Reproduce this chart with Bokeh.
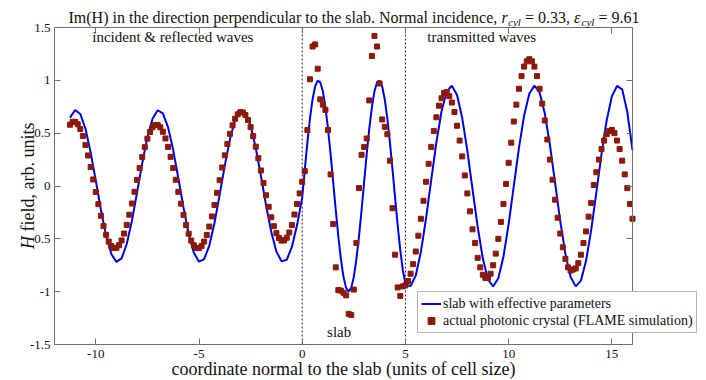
import math
from bokeh.plotting import figure
from bokeh.models import (Range1d, LinearAxis, FixedTicker, Label, Legend, LegendItem)
from bokeh.embed import file_html
from bokeh.resources import INLINE

# ---------------- data ----------------
# effective-medium slab (blue line)
x_eff_inc = [-11.25, -11.0, -10.75, -10.5, -10.25, -10.0, -9.75, -9.5, -9.25, -9.0,
             -8.75, -8.5, -8.25, -8.0, -7.75, -7.5, -7.25, -7.0, -6.75, -6.5,
             -6.25, -6.0, -5.75, -5.5, -5.25, -5.0, -4.75, -4.5, -4.25, -4.0,
             -3.75, -3.5, -3.25, -3.0, -2.75, -2.5, -2.25, -2.0, -1.75, -1.5,
             -1.25, -1.0, -0.75, -0.5, -0.25, 0.0]
h_eff_inc = [0.647, 0.719, 0.682, 0.542, 0.320, 0.051, -0.227, -0.470, -0.642, -0.718,
             -0.685, -0.549, -0.330, -0.062, 0.216, 0.462, 0.637, 0.717, 0.688, 0.557,
             0.340, 0.073, -0.205, -0.453, -0.632, -0.716, -0.692, -0.564, -0.350, -0.084,
             0.194, 0.444, 0.626, 0.714, 0.695, 0.570, 0.360, 0.095, -0.184, -0.435,
             -0.621, -0.713, -0.698, -0.577, -0.370, -0.110]
x_eff_slab = [0.125, 0.25, 0.375, 0.5, 0.625, 0.75, 0.875, 1.0, 1.125, 1.25,
              1.375, 1.5, 1.625, 1.75, 1.875, 2.0, 2.125, 2.25, 2.375, 2.5,
              2.625, 2.75, 2.875, 3.0, 3.125, 3.25, 3.375, 3.5, 3.625, 3.75,
              3.875, 4.0, 4.125, 4.25, 4.375, 4.5, 4.625, 4.75, 4.875, 5.0]
h_eff_slab = [0.155, 0.411, 0.638, 0.819, 0.942, 0.997, 0.981, 0.896, 0.746, 0.543,
              0.301, 0.038, -0.229, -0.478, -0.694, -0.860, -0.964, -1.000, -0.964, -0.860,
              -0.693, -0.478, -0.228, 0.038, 0.301, 0.543, 0.746, 0.896, 0.981, 0.997,
              0.942, 0.819, 0.638, 0.411, 0.155, -0.112, -0.374, -0.607, -0.797, -0.927]
x_eff_tr = [5.125, 5.25, 5.5, 5.75, 6.0, 6.25, 6.5, 6.75, 7.0, 7.25, 7.5,
            7.75, 8.0, 8.25, 8.5, 8.75, 9.0, 9.25, 9.5, 9.75, 10.0,
            10.25, 10.5, 10.75, 11.0, 11.25, 11.5, 11.75, 12.0, 12.25, 12.5,
            12.75, 13.0, 13.25, 13.5, 13.75, 14.0, 14.25, 14.5, 14.75, 15.0,
            15.25, 15.5, 15.75, 16.0]
h_eff_tr = [-0.942, -0.947, -0.848, -0.623, -0.305, 0.059, 0.414, 0.707, 0.895, 0.949, 0.861,
            0.645, 0.333, -0.030, -0.387, -0.687, -0.885, -0.950, -0.873, -0.667, -0.360,
            0.000, 0.360, 0.666, 0.873, 0.950, 0.885, 0.688, 0.388, 0.030, -0.332,
            -0.644, -0.861, -0.950, -0.896, -0.708, -0.416, -0.060, 0.304, 0.622, 0.848,
            0.947, 0.915, 0.700, 0.340]

# FLAME simulation of the photonic crystal (red squares)
x_sim_inc = [-11.25, -11.125, -11.0, -10.875, -10.75, -10.625, -10.5, -10.375, -10.25, -10.125,
             -10.0, -9.875, -9.75, -9.625, -9.5, -9.375, -9.25, -9.125, -9.0, -8.875,
             -8.75, -8.625, -8.5, -8.375, -8.25, -8.125, -8.0, -7.875, -7.75, -7.625,
             -7.5, -7.375, -7.25, -7.125, -7.0, -6.875, -6.75, -6.625, -6.5, -6.375,
             -6.25, -6.125, -6.0, -5.875, -5.75, -5.625, -5.5, -5.375, -5.25, -5.125,
             -5.0, -4.875, -4.75, -4.625, -4.5, -4.375, -4.25, -4.125, -4.0, -3.875,
             -3.75, -3.625, -3.5, -3.375, -3.25, -3.125, -3.0, -2.875, -2.75, -2.625,
             -2.5, -2.375, -2.25, -2.125, -2.0, -1.875, -1.75, -1.625, -1.5, -1.375,
             -1.25, -1.125, -1.0, -0.875, -0.75, -0.625, -0.5, -0.375, -0.25, -0.125,
             0.0, 0.125]
h_sim_inc = [0.580, 0.607, 0.607, 0.584, 0.539, 0.473, 0.389, 0.289, 0.179, 0.062,
             -0.057, -0.172, -0.282, -0.379, -0.462, -0.526, -0.568, -0.588, -0.585, -0.560,
             -0.515, -0.450, -0.368, -0.272, -0.166, -0.055, 0.058, 0.170, 0.274, 0.368,
             0.448, 0.511, 0.555, 0.577, 0.578, 0.555, 0.513, 0.450, 0.370, 0.276,
             0.171, 0.059, -0.055, -0.167, -0.274, -0.369, -0.451, -0.516, -0.561, -0.586,
             -0.588, -0.568, -0.526, -0.464, -0.384, -0.288, -0.180, -0.065, 0.055, 0.175,
             0.290, 0.398, 0.494, 0.574, 0.636, 0.678, 0.698, 0.696, 0.671, 0.624,
             0.557, 0.472, 0.372, 0.263, 0.147, 0.028, -0.088, -0.197, -0.296, -0.380,
             -0.446, -0.492, -0.516, -0.515, -0.490, -0.440, -0.370, -0.270, -0.170, -0.070,
             0.040, 0.140]
x_sim_slab = [0.25, 0.375, 0.5, 0.625, 0.75, 0.875, 1.0, 1.125, 1.25, 1.375,
              1.5, 1.625, 1.75, 1.875, 2.0, 2.125, 2.25, 2.375, 2.5, 2.625,
              2.75, 2.875, 3.0, 3.125, 3.25, 3.375, 3.5, 3.625, 3.75, 3.875,
              4.0, 4.125, 4.25, 4.375, 4.5, 4.625, 4.75, 4.875, 5.0]
h_sim_slab = [0.53, 1.01, 1.32, 1.34, 1.11, 0.82, 0.77, 0.72, 0.53, 0.11,
              -0.36, -0.77, -0.985, -0.99, -1.01, -1.035, -1.21, -1.22, -0.98, -0.54,
              -0.02, 0.295, 0.37, 0.45, 0.81, 1.23, 1.42, 1.32, 0.97, 0.63,
              0.56, 0.49, 0.24, -0.21, -0.65, -0.96, -1.04, -0.95, -0.94]
x_sim_tr = [5.125, 5.25, 5.375, 5.5, 5.625, 5.75, 5.875, 6.0, 6.125, 6.25,
            6.375, 6.5, 6.625, 6.75, 6.875, 7.0, 7.125, 7.25, 7.375, 7.5,
            7.625, 7.75, 7.875, 8.0, 8.125, 8.25, 8.375, 8.5, 8.625, 8.75,
            8.875, 9.0, 9.125, 9.25, 9.375, 9.5, 9.625, 9.75, 9.875, 10.0,
            10.125, 10.25, 10.375, 10.5, 10.625, 10.75, 10.875, 11.0, 11.125, 11.25,
            11.375, 11.5, 11.625, 11.75, 11.875, 12.0, 12.125, 12.25, 12.375, 12.5,
            12.625, 12.75, 12.875, 13.0, 13.125, 13.25, 13.375, 13.5, 13.625, 13.75,
            13.875, 14.0, 14.125, 14.25, 14.375, 14.5, 14.625, 14.75, 14.875, 15.0,
            15.125, 15.25, 15.375, 15.5, 15.625, 15.75, 15.875, 16.0]
h_sim_tr = [-0.90, -0.83, -0.74, -0.62, -0.47, -0.31, -0.14, 0.04, 0.21, 0.37,
            0.52, 0.65, 0.76, 0.83, 0.88, 0.89, 0.85, 0.79, 0.70, 0.57,
            0.43, 0.28, 0.10, -0.07, -0.24, -0.41, -0.54, -0.68, -0.77, -0.84,
            -0.87, -0.87, -0.83, -0.75, -0.64, -0.50, -0.34, -0.17, 0.02, 0.22,
            0.41, 0.61, 0.77, 0.92, 1.04, 1.13, 1.18, 1.20, 1.18, 1.13,
            1.04, 0.92, 0.78, 0.62, 0.44, 0.25, 0.06, -0.13, -0.30, -0.45,
            -0.58, -0.69, -0.77, -0.80, -0.79, -0.78, -0.73, -0.65, -0.54, -0.43,
            -0.29, -0.16, 0.01, 0.13, 0.25, 0.35, 0.43, 0.49, 0.52, 0.53,
            0.50, 0.43, 0.35, 0.24, 0.11, -0.02, -0.17, -0.31]

slab_edges = [0, 5]
x_lo, x_hi = -12, 16
y_lo, y_hi = -1.5, 1.5
x_ticks = [-10, -5, 0, 5, 10, 15]
x_tick_labels = ["-10", "-5", "0", "5", "10", "15"]
y_ticks = [-1.5, -1, -0.5, 0, 0.5, 1, 1.5]
y_tick_labels = ["-1.5", "-1", "-0.5", "0", "0.5", "1", "1.5"]

# ---------------- layout / styling ----------------
FONT = "Liberation Serif"
BLUE = "#0000e6"
RED = "#8b1a0a"
AXIS = "#6e6e6e"
TXT = "#111111"

W, H = 706, 380                 # canvas (page has no margin)
BOX_L, BOX_R = 54, 632          # axes box in canvas pixels
BOX_T, BOX_B = 27, 344
sx = (BOX_R - BOX_L) / (x_hi - x_lo)
sy = (BOX_B - BOX_T) / (y_hi - y_lo)
xr = Range1d(x_lo - BOX_L / sx, x_hi + (W - BOX_R) / sx)
yr = Range1d(y_lo - (H - BOX_B) / sy, y_hi + BOX_T / sy)

x_eff = x_eff_inc + x_eff_slab + x_eff_tr
h_eff = h_eff_inc + h_eff_slab + h_eff_tr
x_sim = x_sim_inc + x_sim_slab + x_sim_tr
h_sim = h_sim_inc + h_sim_slab + h_sim_tr

p = figure(width=W, height=H, output_backend="svg", toolbar_location=None,
           x_range=xr, y_range=yr, x_axis_location=None, y_axis_location=None,
           min_border=0, min_border_left=0, min_border_right=0,
           min_border_top=0, min_border_bottom=0)
p.outline_line_color = None
p.grid.visible = False
p.background_fill_color = "white"
p.border_fill_color = "white"


def make_axis(ticks, labels, loc, bounds, show_labels, standoff):
    ax = LinearAxis(fixed_location=loc, bounds=bounds)
    ax.ticker = FixedTicker(ticks=ticks)
    ax.major_label_overrides = {t: l for t, l in zip(ticks, labels)}
    ax.axis_line_color = AXIS
    ax.major_tick_line_color = AXIS
    ax.major_tick_in = 6
    ax.major_tick_out = 0
    ax.minor_tick_line_color = None
    ax.major_label_text_font = FONT
    ax.major_label_text_font_size = "13px"
    ax.major_label_standoff = standoff
    ax.major_label_text_color = TXT if show_labels else None
    return ax


p.add_layout(make_axis(x_ticks, x_tick_labels, y_lo, (x_lo, x_hi), True, 5), "below")
p.add_layout(make_axis(x_ticks, x_tick_labels, y_hi, (x_lo, x_hi), False, 0), "above")
p.add_layout(make_axis(y_ticks, y_tick_labels, x_lo, (y_lo, y_hi), True, 4), "left")
p.add_layout(make_axis(y_ticks, y_tick_labels, x_hi, (y_lo, y_hi), False, 0), "right")

# slab boundaries
p.segment(x0=slab_edges, y0=[y_lo] * len(slab_edges), x1=slab_edges, y1=[y_hi] * len(slab_edges),
          line_color="#222222", line_width=1, line_dash="2 2")

r_line = p.line(x_eff, h_eff, line_color=BLUE, line_width=2)
r_pts = p.scatter(x_sim, h_sim, marker="square", size=5, fill_color=RED, line_color=RED)

# in-plot annotations
for xt, yt, t, al in [(-10.17, 1.41, "incident & reflected waves", "left"),
                      (6.06, 1.41, "transmitted waves", "left"),
                      (1.79, -1.383, "slab", "center")]:
    p.add_layout(Label(x=xt, y=yt, text=t, text_font=FONT, text_font_size="15px",
                       text_color=TXT, text_align=al, text_baseline="alphabetic"))


def slabel(x, y, text, size, style="normal", align="left", angle=0.0, baseline="alphabetic"):
    # x, y: canvas pixels measured from the bottom-left corner
    p.add_layout(Label(x=x, y=y, x_units="screen", y_units="screen", text=text,
                       text_font=FONT, text_font_size=size, text_font_style=style,
                       text_align=align, text_baseline=baseline, angle=angle,
                       text_color=TXT))


# title (pieces, so that r_cyl and eps_cyl get italic subscripts)
ty = H - 17
tx = 68
slabel(tx, ty, "Im(H) in the direction perpendicular to the slab. Normal incidence,", "16px")
slabel(tx + 433, ty, "r", "16px", "italic")
slabel(tx + 439.5, ty - 4, "cyl", "11px", "italic")
slabel(tx + 456.5, ty, "= 0.33,", "16px")
slabel(tx + 505.5, ty, "\u03b5", "16px", "italic")
slabel(tx + 513, ty - 4, "cyl", "11px", "italic")
slabel(tx + 530, ty, "= 9.61", "16px")

# axis titles
slabel((BOX_L + BOX_R) / 2, 2, "coordinate normal to the slab (units of cell size)", "18px",
       align="center", baseline="bottom")
slabel(27, 131.5, "H", "18px", "italic", angle=math.pi / 2)
slabel(27, 149, "field, arb. units", "18px", angle=math.pi / 2)

legend = Legend(items=[LegendItem(label="slab with effective parameters", renderers=[r_line]),
                       LegendItem(label="actual photonic crystal (FLAME simulation)", renderers=[r_pts])],
                location=(417, 47), orientation="vertical",
                label_text_font=FONT, label_text_font_size="14px", label_text_color=TXT,
                glyph_width=20, glyph_height=17, label_height=17, label_standoff=2,
                padding=3, spacing=0, margin=0,
                border_line_color=AXIS, border_line_width=1, background_fill_color="white",
                background_fill_alpha=1.0)
p.add_layout(legend)

open("out.html", "w").write(file_html(p, INLINE))
